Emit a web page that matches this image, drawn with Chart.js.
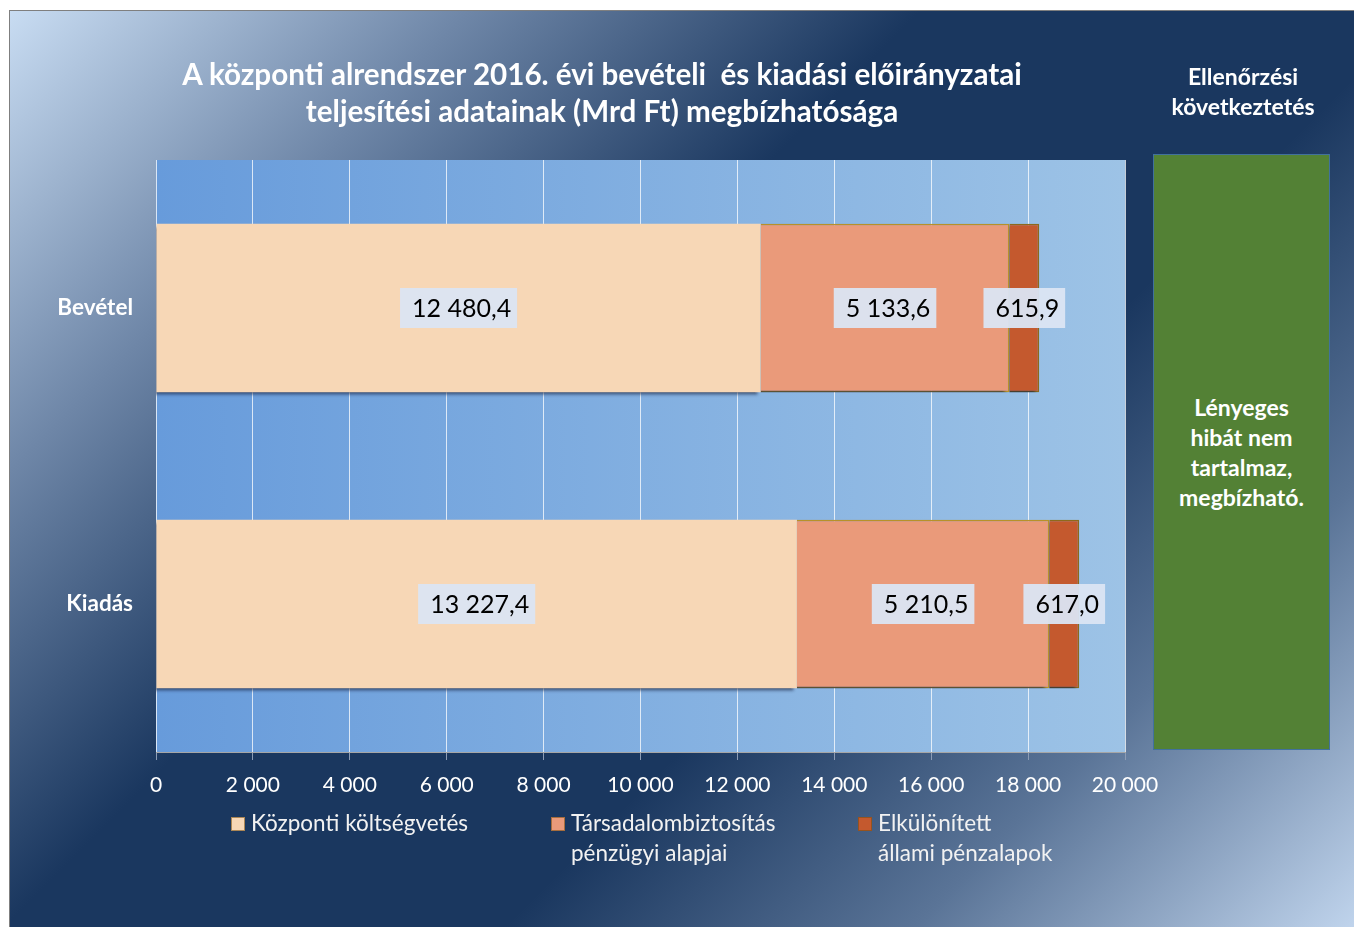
<!DOCTYPE html>
<html lang="hu">
<head>
<meta charset="utf-8">
<script src="https://cdn.jsdelivr.net/npm/chart.js@4/dist/chart.umd.min.js"></script>
<style>
  html, body { margin: 0; padding: 0; background: #ffffff; width: 1354px; height: 927px; overflow: hidden; }
  #frame { position: absolute; left: 9px; top: 10px; width: 1350px; height: 925px; border: 1px solid #7f7f7f;
    background: linear-gradient(135deg, #c8dcf2 0%, #6f87a8 20%, #1a375f 40%, #1a375f 62%, #5a7497 80%, #c3d7ef 100%); }
  #chart { position: absolute; left: 0; top: 0; }
  .txt { position: absolute; color: #ffffff; font-family: Lato, "Open Sans", sans-serif; }
  #title { left: 0; width: 1204px; top: 55px; text-align: center; font-weight: bold; font-size: 29.6px; line-height: 37px; }
  #sideTitle { left: 1143px; width: 200px; top: 61px; text-align: center; font-weight: bold; font-size: 23px; line-height: 30px; }
  #verdict { position: absolute; left: 1153px; top: 154px; width: 175px; height: 594px; background: #538135; border: 1.5px solid #41719c;
    display: flex; align-items: center; justify-content: center; text-align: center; color: #fff; font-family: Lato, sans-serif; font-weight: bold; font-size: 23px; line-height: 30px; }
  .leg { position: absolute; top: 808px; font-family: Lato, sans-serif; font-size: 22.5px; line-height: 30px; color: #f2f2f2; display: flex; }
  .leg .sq { width: 12px; height: 12px; margin-top: 9px; margin-right: 6px; border: 1px solid rgba(120,80,20,0.6); flex: none; }
</style>
</head>
<body>
<div id="frame"></div>
<canvas id="chart" width="1354" height="927"></canvas>
<div id="title" class="txt">A központi alrendszer 2016. évi bevételi&nbsp; és kiadási előirányzatai<br>teljesítési adatainak (Mrd Ft) megbízhatósága</div>
<div id="sideTitle" class="txt">Ellenőrzési<br>következtetés</div>
<div id="verdict">Lényeges<br>hibát nem<br>tartalmaz,<br>megbízható.</div>
<div id="legend"></div>
<script>
// ---- data ----
const categories = ['Bevétel', 'Kiadás'];
const seriesNames = [['Központi költségvetés'], ['Társadalombiztosítás', 'pénzügyi alapjai'], ['Elkülönített', 'állami pénzalapok']];
const kozpontiKoltsegvetes = [12480.4, 13227.4];
const tarsadalombiztositas = [5133.6, 5210.5];
const elkulonitettAlapok = [615.9, 617.0];
const xTickValues = [0, 2000, 4000, 6000, 8000, 10000, 12000, 14000, 16000, 18000, 20000];

// ---- styles ----
const colors = ['#f7d7b6', '#ea9a7a', '#c4592e'];
const borders = ['rgba(0,0,0,0)', '#b8922a', '#8f6a1c'];
const FONT = 'Lato, "Open Sans", sans-serif';

function fmtThousands(s) { return s.replace(/\B(?=(\d{3})+(?!\d))/g, ' '); }
function fmtValue(v) { const [i, d] = v.toFixed(1).split('.'); return fmtThousands(i) + ',' + d; }

// legend (HTML)
const legendLeft = [231, 551, 858];
const legendEl = document.getElementById('legend');
seriesNames.forEach((lines, i) => {
  const item = document.createElement('div');
  item.className = 'leg';
  item.style.left = legendLeft[i] + 'px';
  const sq = document.createElement('span');
  sq.className = 'sq';
  sq.style.background = colors[i];
  const t = document.createElement('div');
  t.innerHTML = lines.join('<br>');
  item.appendChild(sq); item.appendChild(t);
  legendEl.appendChild(item);
});

const plotBg = {
  id: 'plotBg',
  beforeDraw(chart) {
    const { ctx, chartArea: a } = chart;
    const g = ctx.createLinearGradient(a.left, 0, a.right, 0);
    g.addColorStop(0, '#679bdb');
    g.addColorStop(1, '#9dc3e6');
    ctx.save(); ctx.fillStyle = g; ctx.fillRect(a.left, a.top, a.right - a.left, a.bottom - a.top); ctx.restore();
  }
};
const barShadow = {
  id: 'barShadow',
  beforeDatasetDraw(chart, args) {
    const ctx = chart.ctx; ctx.save();
    ctx.shadowColor = 'rgba(20,30,60,0.6)'; ctx.shadowOffsetX = -3; ctx.shadowOffsetY = 3; ctx.shadowBlur = 3;
  },
  afterDatasetDraw(chart) { chart.ctx.restore(); }
};
const valueLabels = {
  id: 'valueLabels',
  afterDatasetsDraw(chart) {
    const ctx = chart.ctx;
    ctx.save();
    ctx.font = '25px ' + FONT;
    ctx.textBaseline = 'middle';
    chart.data.datasets.forEach((ds, di) => {
      chart.getDatasetMeta(di).data.forEach((bar, i) => {
        const txt = fmtValue(ds.data[i]);
        const cx = (bar.x + bar.base) / 2, cy = bar.y;
        const w = ctx.measureText(txt).width;
        const padL = 12, padR = 6, h = 40;
        const bw = w + padL + padR;
        ctx.fillStyle = 'rgba(219,229,243,0.95)';
        ctx.fillRect(cx - bw / 2, cy - h / 2, bw, h);
        ctx.fillStyle = '#000';
        ctx.textAlign = 'left';
        ctx.fillText(txt, cx - bw / 2 + padL, cy + 1);
      });
    });
    ctx.restore();
  }
};

new Chart(document.getElementById('chart'), {
  type: 'bar',
  data: {
    labels: categories,
    datasets: [
      { label: seriesNames[0].join(' '), data: kozpontiKoltsegvetes, backgroundColor: colors[0], borderColor: borders[0], borderWidth: 0 },
      { label: seriesNames[1].join(' '), data: tarsadalombiztositas, backgroundColor: colors[1], borderColor: borders[1], borderWidth: 1.5 },
      { label: seriesNames[2].join(' '), data: elkulonitettAlapok, backgroundColor: colors[2], borderColor: borders[2], borderWidth: 1.5 }
    ]
  },
  options: {
    indexAxis: 'y',
    responsive: false,
    animation: false,
    devicePixelRatio: 1,
    layout: { padding: { left: 0, top: 160, right: 229, bottom: 0 } },
    datasets: { bar: { barPercentage: 0.57, categoryPercentage: 1 } },
    plugins: { legend: { display: false }, title: { display: false }, tooltip: { enabled: false } },
    scales: {
      x: {
        stacked: true, min: 0, max: 20000,
        afterBuildTicks(scale) { scale.ticks = xTickValues.map(v => ({ value: v })); },
        ticks: { color: '#ffffff', font: { family: FONT, size: 21 }, padding: 13, maxRotation: 0, autoSkip: false,
          callback: v => fmtThousands(String(v)) },
        grid: { color: 'rgba(255,255,255,0.75)', lineWidth: 1, tickColor: '#8c9cb5', tickLength: 8 },
        border: { color: '#a6a6a6', width: 1 },
        afterFit(scale) { scale.height = 175; }
      },
      y: {
        stacked: true,
        grid: { display: false }, border: { display: false },
        ticks: { color: '#ffffff', font: { family: FONT, size: 22.5, weight: 'bold' }, padding: 15 },
        afterFit(scale) { scale.width = 156; }
      }
    }
  },
  plugins: [plotBg, barShadow, valueLabels]
});
</script>
</body>
</html>
